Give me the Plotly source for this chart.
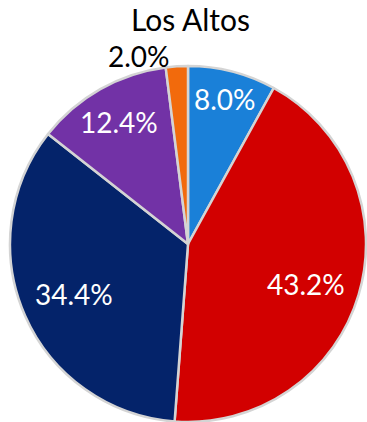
import math
import plotly.graph_objects as go

# Share of each group in Los Altos (percent)
groups = ["Group A", "Group B", "Group C", "Group D", "Group E"]
shares = [8.0, 43.2, 34.4, 12.4, 2.0]
colors = ["#1a80d8", "#d20000", "#04236a", "#7232a6", "#f26a0c"]

W, H = 367, 422
cx, cy, R = 188, 244, 178  # pie centre and radius in pixels

fig = go.Figure(go.Pie(
    labels=groups,
    values=shares,
    sort=False,
    direction="clockwise",
    rotation=0,
    marker=dict(colors=colors, line=dict(color="#d4d4d4", width=2.5)),
    textinfo="none",
    hoverinfo="label+percent",
    domain=dict(x=[(cx - R) / W, (cx + R) / W], y=[1 - (cy + R) / H, 1 - (cy - R) / H]),
    showlegend=False,
))

# Label radius (fraction of pie radius) and text colour per slice
label_r = [0.84, 0.70, 0.70, 0.79, 1.09]
label_ang_shift = [0, 2, 0, 0, -11]
label_col = ["white", "white", "white", "white", "black"]

total = sum(shares)
cum = 0.0
annotations = []
for i, v in enumerate(shares):
    mid = (cum + v / 2) / total * 360 + label_ang_shift[i]
    cum += v
    a = math.radians(mid)
    px = cx + label_r[i] * R * math.sin(a)
    py = cy - label_r[i] * R * math.cos(a)
    annotations.append(dict(
        x=px / W, y=1 - py / H, xref="paper", yref="paper",
        text=f"{v:.1f}%", showarrow=False,
        font=dict(family="Lato, sans-serif", size=28, color=label_col[i]),
        xanchor="center", yanchor="middle",
    ))

annotations.append(dict(
    x=190 / W, y=1.0, xref="paper", yref="paper",
    text="Los Altos", showarrow=False,
    font=dict(family="Lato, sans-serif", size=30, color="black"),
    xanchor="center", yanchor="top", borderpad=0,
))

fig.update_layout(
    width=W, height=H,
    margin=dict(l=0, r=0, t=0, b=0),
    paper_bgcolor="white",
    annotations=annotations,
)

fig.write_html("out.html")
